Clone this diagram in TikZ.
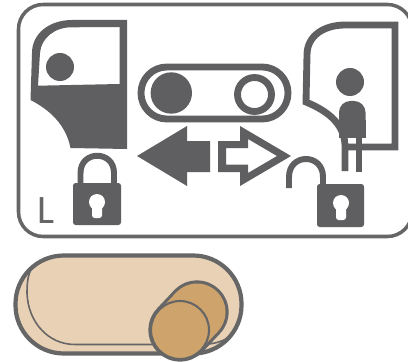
\documentclass[tikz,border=0pt]{standalone}
\usepackage{fontspec}
\setmainfont{Carlito}
\definecolor{icongrey}{HTML}{5F5F61}
\definecolor{edgegrey}{HTML}{666666}
\definecolor{pilltan}{HTML}{E9D1B5}
\definecolor{knobtan}{HTML}{CFA46C}
\begin{document}
\begin{tikzpicture}[x=0.02cm,y=-0.02cm,
  icon/.style={fill=icongrey,even odd rule},
  band/.style={draw=icongrey,line width=3.9pt},
  shackle/.style={draw=icongrey,line width=3.4pt},
  edge/.style={draw=edgegrey,line width=2pt},
  thickedge/.style={draw=edgegrey,line width=2.4pt},
  hairline/.style={draw=edgegrey,line width=0.9pt}]
\useasboundingbox (0,0) rectangle (408,361);
\clip (0,0) rectangle (408,361);

\draw[edge,fill=white,rounded corners=14pt] (18.5,4.5) rectangle (412,236.5);

\fill[icon] (127,20) -- (127,149) -- (70.5,148) .. controls (66,125) and (50,110) .. (30.5,100)
  -- (32,53) .. controls (32,33) and (50,20) .. (72,20) -- cycle
  (119.5,27) -- (119.5,84) -- (38,85.7) -- (40,53) .. controls (41,38) and (55,27) .. (72,27.3) -- cycle;
\fill[icongrey] (60,67) circle (14);

\draw[band,rounded corners=14.7pt] (141,67) rectangle (288,119);
\fill[icongrey] (171.3,93) circle (20.7);
\draw[icongrey,line width=3.9pt] (254.5,94.5) circle (17);

\fill[icon] (137,156) -- (187,126) -- (187,141) -- (210,141) -- (210,172) -- (187,172) -- (187,186) -- cycle;
\fill[icon] (291,156) -- (240,126) -- (240,141) -- (218,141) -- (218,172) -- (240,172) -- (240,186) -- cycle
  (277,156) -- (248,139) -- (248,148) -- (226,148) -- (226,164.5) -- (248,164.5) -- (248,173) -- cycle;

\draw[shackle] (80.5,184) -- (80.5,173) .. controls (80.5,150) and (114,150) .. (114,173) -- (114,184);
\fill[icongrey,rounded corners=1.5pt] (73,183) rectangle (121,225);
\fill[white] (97,202) circle (8);
\fill[white,rounded corners=1.5pt] (92,204) rectangle (102,218);

\draw[shackle] (289,188) -- (289,177) .. controls (289,153) and (323,153) .. (323,177) -- (323,185);
\fill[icongrey,rounded corners=1.5pt] (317,184) rectangle (364,227);
\fill[white] (341,203) circle (8);
\fill[white,rounded corners=1.5pt] (336,205) rectangle (346,220);

\draw[band] (345,147) -- (395,147) -- (395,25) -- (345,25) .. controls (325,25) and (307,35) .. (307,55)
  -- (306,102) .. controls (325,110) and (344,122) .. (345,145) -- (345,171);
\draw[band] (359,137) -- (359,172);
\fill[icongrey] (350,82) circle (14);
\fill[icongrey,rounded corners=6.5pt] (339,137.5) -- (339,101) -- (365.5,101) -- (365.5,137.5) [sharp corners] -- cycle;
\fill[icongrey] (339,120) rectangle (365.5,137.5);
\fill[white] (348,138) rectangle (355.5,142.5);

\node[text=edgegrey,font=\fontsize{23pt}{23pt}\selectfont,inner sep=0pt] (sidelabel) at (45.5,211) {L};

\draw[thickedge,fill=pilltan,rounded corners=27.5pt] (15.5,255.5) rectangle (241.5,353.5);
\draw[hairline] (34,265) .. controls (28,272) and (27,282) .. (27,293) .. controls (28,322) and (48,344.5) .. (75,344.5)
  -- (200,344.5) .. controls (212,344.5) and (222,342) .. (229,337);

\draw[thickedge] (197,312) circle (29.5);
\draw[thickedge] (180,330) circle (29.5);
\draw[thickedge] (218.4,332.2) -- (201.4,350.2) (175.6,291.8) -- (158.6,309.8);
\fill[knobtan] (197,312) circle (28.5);
\fill[knobtan] (180,330) circle (28.5);
\fill[knobtan] (217.7,331.5) -- (200.7,349.5) -- (159.3,310.5) -- (176.3,292.5) -- cycle;
\draw[hairline,line width=1.2pt] (180,330) circle (29);
\end{tikzpicture}
\end{document}
